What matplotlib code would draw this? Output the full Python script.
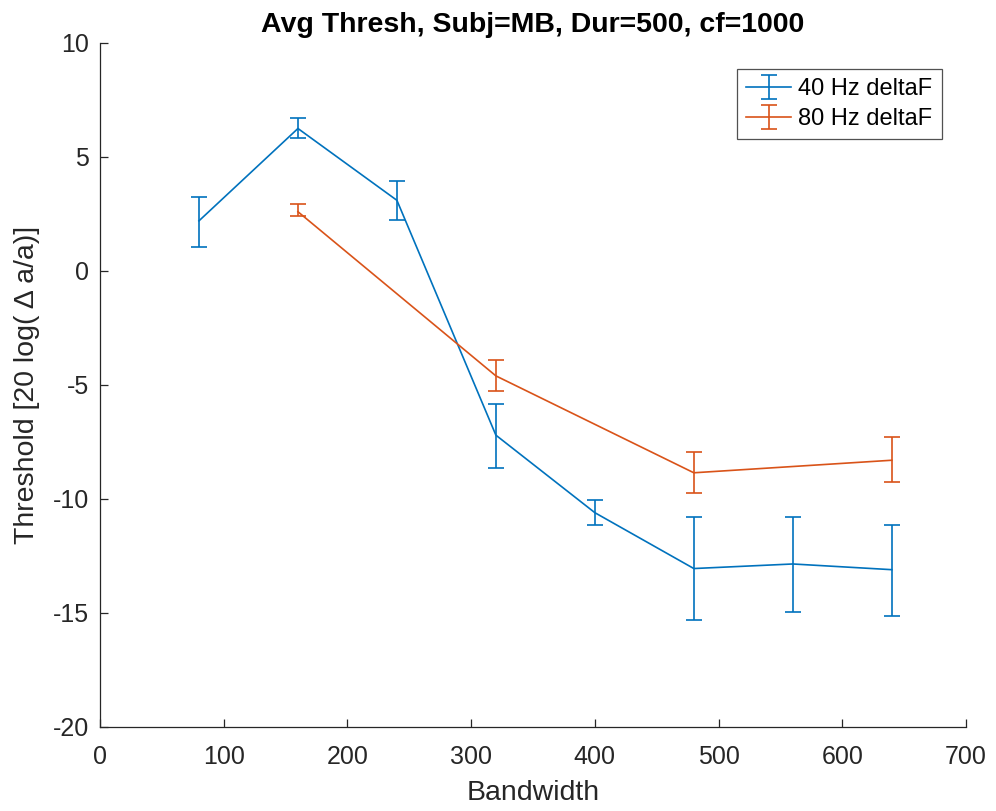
import numpy as np
import matplotlib
matplotlib.use("Agg")
import matplotlib.pyplot as plt

plt.rcParams["font.family"] = ["Liberation Sans", "DejaVu Sans"]
plt.rcParams["axes.unicode_minus"] = False

# 40 Hz deltaF
bw_40 = [80, 160, 240, 320, 400, 480, 560, 640]
thr_40 = [2.2, 6.25, 3.1, -7.2, -10.6, -13.05, -12.85, -13.1]
err_40_lo = [1.15, 0.4, 0.85, 1.45, 0.55, 2.25, 2.1, 2.05]
err_40_hi = [1.05, 0.45, 0.85, 1.35, 0.55, 2.25, 2.05, 1.95]

# 80 Hz deltaF
bw_80 = [160, 320, 480, 640]
thr_80 = [2.6, -4.6, -8.85, -8.3]
err_80_lo = [0.2, 0.65, 0.9, 0.95]
err_80_hi = [0.35, 0.7, 0.9, 1.0]

blue = "#0072BD"
orange = "#D95319"
ink = "#262626"

fig = plt.figure(figsize=(9.96, 8.11), dpi=100)
ax = fig.add_axes([100 / 996, 1 - 727 / 811, 866 / 996, 684 / 811])

ax.errorbar(bw_40, thr_40, yerr=[err_40_lo, err_40_hi], color=blue,
            lw=1.2, capsize=6, capthick=1.2, label="40 Hz deltaF")
ax.errorbar(bw_80, thr_80, yerr=[err_80_lo, err_80_hi], color=orange,
            lw=1.2, capsize=6, capthick=1.2, label="80 Hz deltaF")

ax.set_xlim(0, 700)
ax.set_ylim(-20, 10)
ax.set_xticks(np.arange(0, 701, 100))
ax.set_yticks(np.arange(-20, 11, 5))
ax.spines["top"].set_visible(False)
ax.spines["right"].set_visible(False)
for s in ("left", "bottom"):
    ax.spines[s].set_color(ink)
    ax.spines[s].set_linewidth(0.9)
ax.tick_params(direction="in", length=6, width=0.9, colors=ink, labelsize=18)
ax.tick_params(axis="x", pad=13)
ax.tick_params(axis="y", pad=8)

ax.set_xlabel("Bandwidth", fontsize=20.5, color=ink, labelpad=8)
ax.set_ylabel("Threshold [20 log( \u0394 a/a)]", fontsize=20.5,
              color=ink, labelpad=9)
ax.set_title("Avg Thresh, Subj=MB, Dur=500, cf=1000", fontsize=20.5,
             fontweight="bold", color="black", pad=8)

leg = ax.legend(loc="upper right", bbox_to_anchor=(0.972, 0.962), fontsize=17,
                frameon=True, fancybox=False, borderpad=0.4,
                handlelength=1.9, handletextpad=0.3, labelspacing=0.32,
                borderaxespad=0.0)
leg.get_frame().set_edgecolor(ink)
leg.get_frame().set_linewidth(0.9)

fig.savefig("out.png", dpi=100)
